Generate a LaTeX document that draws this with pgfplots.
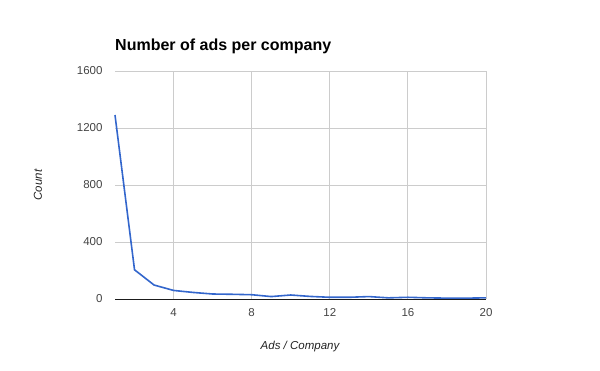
\documentclass[border=0pt]{standalone}
\usepackage{pgfplots}
\pgfplotsset{compat=1.18}
\usepackage{fontspec}
\setmainfont{Liberation Sans}
\definecolor{gridc}{HTML}{CCCCCC}
\definecolor{linec}{HTML}{3366CC}
\definecolor{tickc}{HTML}{444444}
\definecolor{labc}{HTML}{222222}
\begin{document}
\begin{tikzpicture}
\path[use as bounding box] (0pt,0pt) rectangle (600pt,371pt);
\begin{axis}[
  at={(115pt,72pt)}, anchor=south west,
  scale only axis, width=371pt, height=228pt,
  xmin=1, xmax=20, ymin=0, ymax=1600,
  xtick={4,8,12,16,20}, ytick={0,400,800,1200,1600},
  grid=major, major grid style={gridc, line width=0.8pt},
  axis line style={draw=none},
  tick style={draw=none},
  every tick label/.style={font=\fontsize{11.5}{13}\selectfont, text=tickc},
  /pgf/number format/assume math mode=true,
  /pgf/number format/1000 sep={},
  yticklabel style={xshift=-9pt},
  xticklabel style={yshift=-6pt},
  clip=false,
]
\draw[labc!80!black, line width=0.9pt] (axis cs:1,0) -- (axis cs:20,0);
\addplot[linec, line width=1.6pt, mark=none] coordinates {
(1,1291) (2,205) (3,98) (4,60) (5,46) (6,35) (7,33) (8,30) (9,17) (10,28)
(11,18) (12,12) (13,12) (14,17) (15,8) (16,12) (17,8) (18,6) (19,6) (20,8)
};
\end{axis}
\node[anchor=base west, inner sep=0pt, font=\fontsize{16}{19}\selectfont\bfseries, text=black] at (115pt,320pt) {Number of ads per company};
\node[rotate=90, font=\fontsize{11.5}{13}\selectfont\itshape, text=labc] at (38pt,186pt) {Count};
\node[font=\fontsize{11.5}{13}\selectfont\itshape, text=labc] at (300pt,24pt) {Ads / Company};
\end{tikzpicture}
\end{document}
